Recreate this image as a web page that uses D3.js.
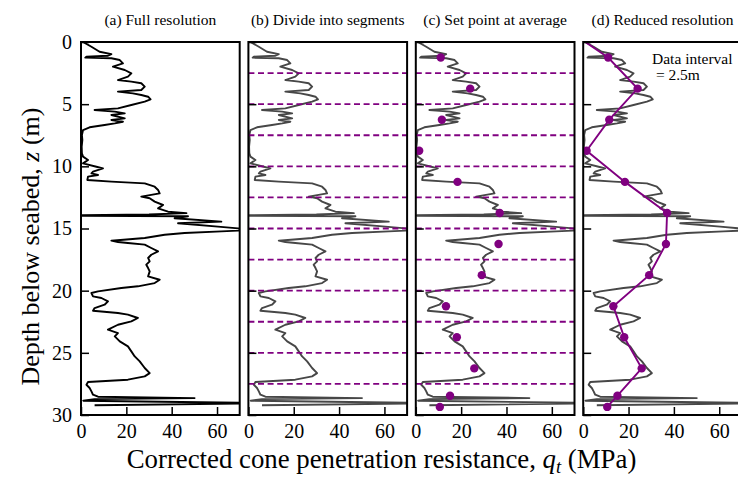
<!DOCTYPE html>
<html><head><meta charset="utf-8">
<script src="https://cdn.jsdelivr.net/npm/d3@7"></script>
<style>
body{margin:0;background:#fff;}
svg{display:block;font-family:"Liberation Serif","Times New Roman",serif;}
</style></head><body>
<svg id="chart" width="738" height="482"></svg>
<script>
// CPT profile (depth in m, qt in MPa)
const profileDepth = [0.00,0.38,0.78,0.97,1.10,1.18,1.26,1.31,1.45,1.72,1.98,2.25,2.52,2.79,3.06,3.19,3.32,3.59,3.86,3.99,4.13,4.26,4.40,4.61,4.80,5.07,5.34,5.47,5.60,5.74,5.87,6.14,6.27,6.41,6.54,6.68,6.86,7.08,7.48,7.88,8.42,8.95,9.22,9.49,9.76,10.03,10.16,10.43,10.56,10.70,10.83,11.10,11.23,11.37,11.64,11.90,12.17,12.44,12.57,12.84,13.11,13.38,13.65,13.76,13.87,13.93,13.97,14.02,14.18,14.45,14.58,14.85,14.99,15.09,15.17,15.23,15.36,15.50,15.76,15.98,16.09,16.17,16.30,16.57,16.84,17.11,17.37,17.64,17.91,18.18,18.45,18.85,19.12,19.39,19.65,19.79,20.06,20.19,20.46,20.59,20.86,21.13,21.40,21.61,21.80,21.93,22.20,22.47,22.74,23.14,23.41,23.68,24.08,24.48,24.88,25.29,25.69,26.22,26.63,26.89,27.16,27.35,27.57,27.83,28.10,28.37,28.53,28.64,28.72,28.85,29.05,29.22];
const profileQt = [0.9,4.6,8.2,13.4,11.9,2.4,1.9,13.4,17.1,18.5,14.1,19.3,22.2,20.7,16.3,22.2,26.6,28.1,26.6,16.3,22.9,26.6,29.6,30.7,28.1,22.2,16.3,6.0,14.9,19.3,13.4,19.3,13.4,18.5,14.9,10.4,3.8,0.9,0.4,0.6,0.3,0.4,0.9,3.1,0.9,6.8,9.7,5.3,4.6,7.5,3.1,2.8,13.4,28.1,32.5,34.0,34.7,26.6,30.3,32.5,36.2,34.0,38.4,46.5,30.0,0.5,0.5,47.2,41.3,61.9,42.8,60.4,69.3,75.0,69.3,61.9,45.7,36.9,28.1,13.4,16.3,20.7,28.1,31.0,34.0,31.0,29.6,30.3,28.8,29.6,30.3,29.6,34.7,32.5,25.1,17.8,7.5,4.6,5.3,9.0,11.9,10.4,6.0,5.3,16.3,20.7,25.1,22.2,16.3,11.9,16.3,14.9,17.1,20.7,22.2,23.7,25.9,28.1,30.3,28.1,20.7,3.1,2.4,3.8,4.6,5.3,7.5,50.1,6.0,1.0,85.0,6.0];

// segment boundaries (data interval 2.5 m)
const segmentBounds = [2.5,5,7.5,10,12.5,15,17.5,20,22.5,25,27.5];

// averaged points
const avgDepth = [1.25,3.75,6.25,8.75,11.25,13.75,16.25,18.75,21.25,23.75,26.25,28.45,29.35];
const avgQt = [11.0,24.0,11.5,1.5,18.4,37.0,36.5,29.1,13.3,18.1,25.8,15.1,10.6];

const panelTitles = ["(a) Full resolution","(b) Divide into segments","(c) Set point at average","(d) Reduced resolution"];
const xTicks = [0,20,40,60];
const yTicks = [0,5,10,15,20,25,30];

const svg = d3.select("#chart");
const left0 = 81, step = 167.4, pw = 158.7, plotTop = 42, plotBottom = 415;
const purple = "#800080";
const y = d3.scaleLinear().domain([0,30]).range([plotTop,plotBottom]);

const profile = profileDepth.map((d,i)=>({d:d,q:profileQt[i]}));
const avg = avgDepth.map((d,i)=>({d:d,q:avgQt[i]}));
const reduced = [{d:profile[0].d,q:profile[0].q}].concat(avg);

const defs = svg.append("defs");

panelTitles.forEach((title,i)=>{
  const x0 = left0 + i*step;
  const x = d3.scaleLinear().domain([0,70]).range([x0,x0+pw]);
  const line = d3.line().x(p=>x(p.q)).y(p=>y(p.d));
  defs.append("clipPath").attr("id","clip"+i)
    .append("rect").attr("x",x0).attr("y",plotTop).attr("width",pw).attr("height",plotBottom-plotTop);
  const g = svg.append("g");
  const c = g.append("g").attr("clip-path","url(#clip"+i+")");

  c.append("path").datum(profile).attr("d",line)
    .attr("fill","none").attr("stroke", i===0 ? "#000" : "#474747")
    .attr("stroke-width",1.9).attr("stroke-linejoin","round");

  if(i===1 || i===2){
    c.selectAll("line.seg").data(segmentBounds).enter().append("line")
      .attr("x1",x(0)).attr("x2",x(70)).attr("y1",d=>y(d)).attr("y2",d=>y(d))
      .attr("stroke",purple).attr("stroke-width",1.9).attr("stroke-dasharray","6,3.6");
  }
  if(i===3){
    c.append("path").datum(reduced).attr("d",line)
      .attr("fill","none").attr("stroke",purple).attr("stroke-width",1.9);
  }
  if(i>=2){
    c.selectAll("circle").data(avg).enter().append("circle")
      .attr("cx",p=>x(p.q)).attr("cy",p=>y(p.d)).attr("r",4.2).attr("fill",purple);
  }

  const ax = g.append("g").attr("transform","translate(0,"+plotBottom+")")
    .call(d3.axisBottom(x).tickValues(xTicks).tickSize(-8).tickPadding(9).tickFormat(d3.format("d")));
  ax.select(".domain").remove();
  ax.selectAll(".tick line").attr("stroke","#000").attr("stroke-width",1.5);
  ax.selectAll(".tick text").attr("font-size",20).attr("font-family","Liberation Serif").attr("fill","#000");

  const ay = g.append("g").attr("transform","translate("+x0+",0)")
    .call(d3.axisLeft(y).tickValues(yTicks).tickSize(-8).tickPadding(9).tickFormat(d3.format("d")));
  ay.select(".domain").remove();
  ay.selectAll(".tick line").attr("stroke","#000").attr("stroke-width",1.5);
  if(i===0){
    ay.selectAll(".tick text").attr("font-size",20).attr("font-family","Liberation Serif").attr("fill","#000");
  } else {
    ay.selectAll(".tick text").remove();
  }

  g.append("rect").attr("x",x0).attr("y",plotTop).attr("width",pw).attr("height",plotBottom-plotTop)
    .attr("fill","none").attr("stroke","#000").attr("stroke-width",2);

  g.append("text").attr("x",x0+pw/2).attr("y",25).attr("text-anchor","middle")
    .attr("font-size",15.5).text(title);

  if(i===3){
    const t = g.append("text").attr("font-size",15.5).style("white-space","pre");
    t.append("tspan").attr("x",652).attr("y",64).text("Data interval");
    t.append("tspan").attr("x",652).attr("y",80).text(" = 2.5m");
  }
});

const xt = svg.append("text").attr("x",381.5).attr("y",468).attr("text-anchor","middle").attr("font-size",26.8).style("white-space","pre");
xt.append("tspan").text("Corrected cone penetration resistance, ");
xt.append("tspan").attr("font-style","italic").text("q");
xt.append("tspan").attr("font-style","italic").attr("font-size",18.5).attr("dy",5).text("t");
xt.append("tspan").attr("dy",-5).text(" (MPa)");

const yt = svg.append("text").attr("transform","translate(39,246.5) rotate(-90)").attr("text-anchor","middle").attr("font-size",26).style("white-space","pre");
yt.append("tspan").text("Depth below seabed, ");
yt.append("tspan").attr("font-style","italic").text("z");
yt.append("tspan").text(" (m)");
</script>
</body></html>
